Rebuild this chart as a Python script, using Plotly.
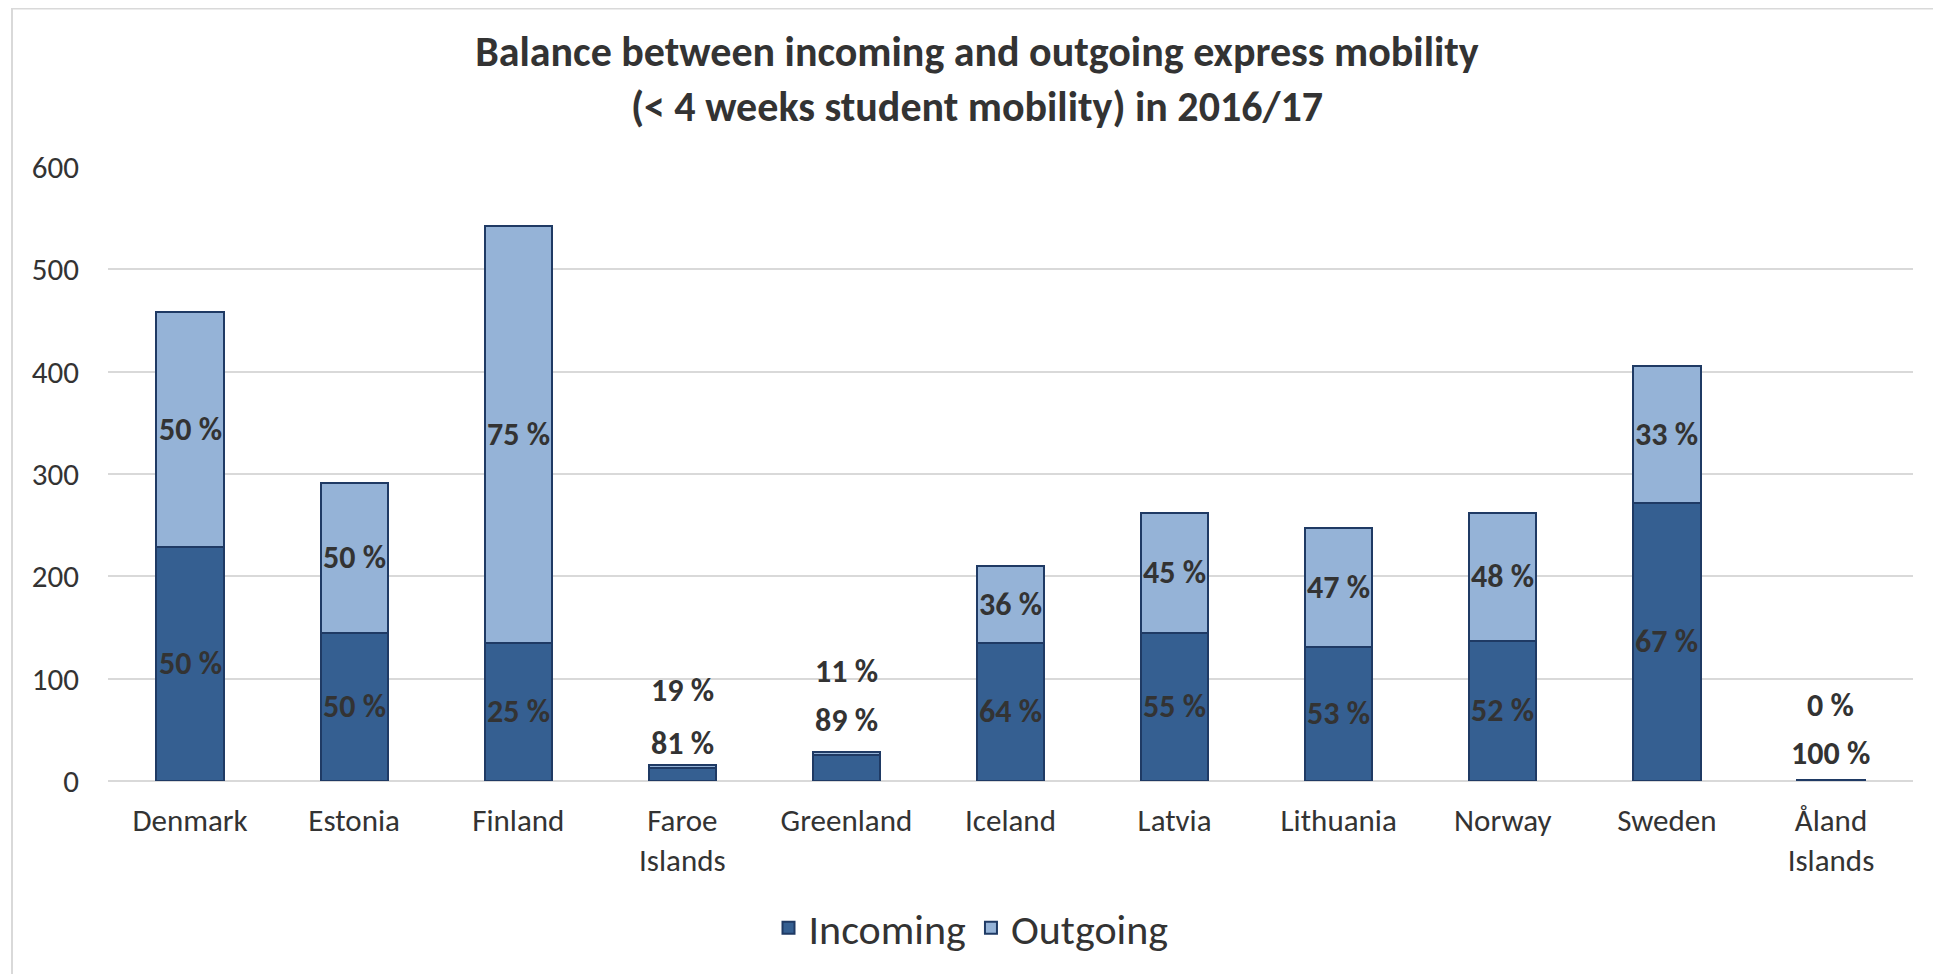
import plotly.graph_objects as go

categories = ["Denmark", "Estonia", "Finland", "Faroe<br>Islands", "Greenland",
              "Iceland", "Latvia", "Lithuania", "Norway", "Sweden", "Åland<br>Islands"]
incoming = [229, 145, 135, 13, 25, 135, 145, 131, 137, 272, 1]
outgoing = [229, 146, 407, 3, 3, 75, 117, 116, 125, 134, 0]
pct_in = ["50 %", "50 %", "25 %", "81 %", "89 %", "64 %", "55 %", "53 %", "52 %", "67 %", "100 %"]
pct_out = ["50 %", "50 %", "75 %", "19 %", "11 %", "36 %", "45 %", "47 %", "48 %", "33 %", "0 %"]

# pixel offsets above bar top for labels of very small bars (incoming, outgoing)
small_label_shift = {"Faroe<br>Islands": (21, 74), "Greenland": (32, 81), "Åland<br>Islands": (26, 74)}

FONT = "Carlito, Lato, sans-serif"
C_IN = "#355F91"
C_OUT = "#95B3D7"
EDGE = "#1F3A64"
TXT = "#333333"
LBL = dict(family=FONT, size=32, color=TXT, weight="bold")

fig = go.Figure()
fig.add_trace(go.Bar(x=categories, y=incoming, name="Incoming",
                     marker=dict(color=C_IN, line=dict(color=EDGE, width=2))))
fig.add_trace(go.Bar(x=categories, y=outgoing, name="Outgoing",
                     marker=dict(color=C_OUT, line=dict(color=EDGE, width=2))))

annotations = []
for i, c in enumerate(categories):
    inc, out = incoming[i], outgoing[i]
    if c in small_label_shift:
        s_in, s_out = small_label_shift[c]
        top = inc + out
        annotations.append(dict(x=c, y=top, yshift=s_in, text=pct_in[i], showarrow=False, font=LBL))
        annotations.append(dict(x=c, y=top, yshift=s_out, text=pct_out[i], showarrow=False, font=LBL))
    else:
        annotations.append(dict(x=c, y=inc / 2, text=pct_in[i], showarrow=False, font=LBL))
        annotations.append(dict(x=c, y=inc + out / 2, text=pct_out[i], showarrow=False, font=LBL))

# page body has an 8px margin; layout is expressed in figure coordinates
L, R, T, B = 100, 36, 159, 201
PW, PH = 1941 - L - R, 974 - T - B

fig.update_layout(
    barmode="stack",
    bargap=0.59,
    width=1941, height=974,
    margin=dict(l=L, r=R, t=T, b=B),
    paper_bgcolor="white", plot_bgcolor="white",
    title=dict(text="Balance between incoming and outgoing express mobility<br>(< 4 weeks student mobility) in 2016/17",
               x=969 / 1941, xanchor="center", xref="container",
               y=1 - 58 / 974, yanchor="middle", yref="container",
               font=dict(family=FONT, size=42, color=TXT, weight="bold")),
    font=dict(family=FONT, color=TXT),
    legend=dict(orientation="h", x=(963 - L) / PW, xanchor="center",
                y=-(920 - (974 - B)) / PH, yanchor="middle",
                font=dict(family=FONT, size=42, color=TXT), traceorder="normal"),
    annotations=annotations,
    shapes=[dict(type="rect", xref="paper", yref="paper",
                 x0=(4 - L) / PW, x1=1.2, y0=-0.5, y1=((974 - B) - 0.5) / PH,
                 line=dict(color="#D9D9D9", width=2), fillcolor="rgba(0,0,0,0)", layer="below")],
)
fig.update_yaxes(range=[0, 600], dtick=100, showgrid=True, gridcolor="#D9D9D9", gridwidth=2,
                 zeroline=True, zerolinecolor="#D9D9D9", zerolinewidth=2,
                 tickfont=dict(family=FONT, size=31, color=TXT), ticks="", showline=False,
                 ticklabelstandoff=28)
fig.update_xaxes(tickfont=dict(family=FONT, size=31, color=TXT), showline=False, ticks="",
                 ticklabelstandoff=18)

fig.write_html("out.html")
